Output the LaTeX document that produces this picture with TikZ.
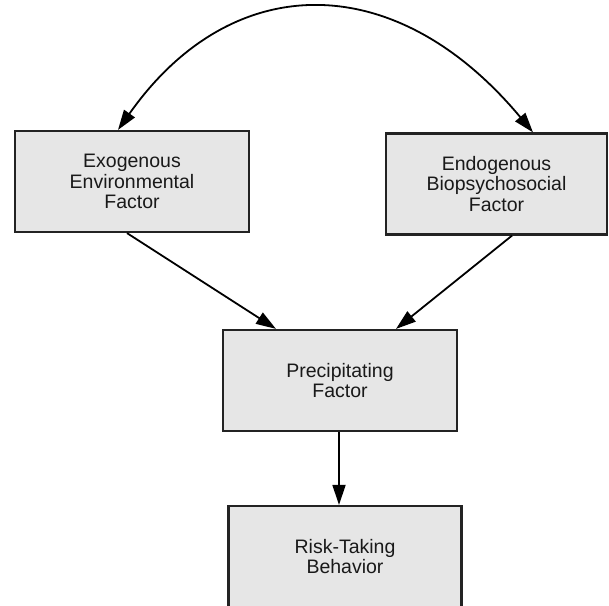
\documentclass[tikz,border=0pt]{standalone}
\usepackage{fontspec}
\setmainfont{Liberation Sans}
\usepackage{xcolor}
\usepackage{tikz}
\usetikzlibrary{positioning, arrows.meta, calc}
\definecolor{boxfill}{RGB}{230,230,230}
\definecolor{boxline}{RGB}{35,35,35}
\definecolor{txtcol}{RGB}{25,25,25}

\begin{document}
\begin{tikzpicture}[
        x=1pt, y=-1pt,
        >={Triangle[length=20pt, width=13pt]},
        font=\fontsize{19.5}{20.5}\selectfont,
        % Styles for nodes
        factor/.style={
            rectangle, draw=boxline, line width=2.2pt, fill=boxfill,
            text=txtcol, minimum width=234pt, minimum height=101pt,
            align=center, inner sep=0pt
        },
        % Style for connecting lines
        link/.style={
            draw=black, line width=1.8pt
        }
    ]

    \useasboundingbox (0,0) rectangle (609,605);
    \clip (0,0) rectangle (609,605);

    % 1. FACTORS
    \node[factor]                      (Exo)  at (132, 181.5)   {Exogenous\\Environmental\\Factor};
    \node[factor, minimum width=221pt] (Endo) at (496.5, 184)   {Endogenous\\Biopsychosocial\\Factor};
    \node[factor]                      (Prec) at (340, 380.5)   {Precipitating\\Factor};
    \node[factor, minimum width=233pt] (Risk) at (345, 556.5)   {Risk-Taking\\Behavior};

    % 2. CONNECTORS
    % Exogenous <--> Endogenous
    \draw[link, <->] ([xshift=-14pt]Exo.north) .. controls (232,-32) and (396,-32) .. ([xshift=36.5pt]Endo.north);

    % both factors --> Precipitating
    \draw[link, ->] ([xshift=-5pt]Exo.south)    -- ([xshift=-64pt]Prec.north);
    \draw[link, ->] ([xshift=15.5pt]Endo.south) -- ([xshift=56pt]Prec.north);

    % Precipitating --> Risk-Taking
    \draw[link, ->] ([xshift=-1pt]Prec.south) -- ([xshift=-6pt]Risk.north);

    \end{tikzpicture}
\end{document}
